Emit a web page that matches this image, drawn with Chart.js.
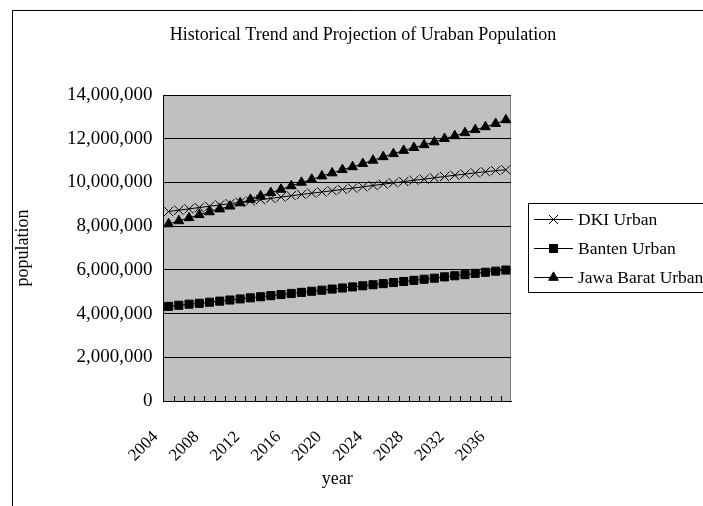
<!DOCTYPE html>
<html>
<head>
<meta charset="utf-8">
<title>Historical Trend and Projection of Uraban Population</title>
<script src="https://cdn.jsdelivr.net/npm/chart.js@4.4.0/dist/chart.umd.min.js"></script>
<style>
  html, body { margin: 0; padding: 0; background: #ffffff; }
  #wrap { position: relative; width: 703px; height: 506px; overflow: hidden; }
  canvas { display: block; }
</style>
</head>
<body>
<div id="wrap"><canvas id="chart" width="703" height="506"></canvas></div>
<script>
// Years on the category axis
const years = [
  '2004', '2005', '2006', '2007', '2008', '2009', '2010', '2011', '2012',
  '2013', '2014', '2015', '2016', '2017', '2018', '2019', '2020', '2021',
  '2022', '2023', '2024', '2025', '2026', '2027', '2028', '2029', '2030',
  '2031', '2032', '2033', '2034', '2035', '2036', '2037'
];

// Urban population per province
const dkiUrban = [
  8670000, 8730000, 8790000, 8850000, 8910000, 8970000, 9030000, 9090000,
  9150000, 9210000, 9270000, 9330000, 9390000, 9450000, 9510000, 9560000,
  9620000, 9680000, 9740000, 9800000, 9860000, 9920000, 9980000, 10040000,
  10100000, 10150000, 10210000, 10270000, 10330000, 10380000, 10440000,
  10490000, 10540000, 10580000
];
const bantenUrban = [
  4330000, 4380000, 4430000, 4470000, 4520000, 4570000, 4620000, 4670000,
  4720000, 4770000, 4820000, 4870000, 4920000, 4970000, 5020000, 5070000,
  5120000, 5170000, 5220000, 5270000, 5320000, 5370000, 5420000, 5470000,
  5520000, 5570000, 5620000, 5680000, 5730000, 5780000, 5840000, 5890000,
  5940000, 5990000
];
const jawaBaratUrban = [
  8100000, 8240000, 8380000, 8520000, 8650000, 8780000, 8910000, 9060000,
  9220000, 9380000, 9530000, 9680000, 9840000, 10000000, 10140000, 10290000,
  10430000, 10580000, 10710000, 10860000, 11010000, 11170000, 11310000,
  11460000, 11590000, 11720000, 11850000, 12000000, 12130000, 12270000,
  12410000, 12540000, 12690000, 12860000
];

// Value axis ticks
const populationTicks = [0, 2000000, 4000000, 6000000, 8000000, 10000000, 12000000, 14000000];
// Every fourth year carries a label
const yearLabelStep = 4;

const SERIF = '"Liberation Serif", "DejaVu Serif", serif';
const INK = '#000000';

const seriesStyles = [
  { label: 'DKI Urban',        data: dkiUrban,       pointStyle: 'crossRot', radius: 6.5 },
  { label: 'Banten Urban',     data: bantenUrban,    pointStyle: 'rect',     radius: 5.7 },
  { label: 'Jawa Barat Urban', data: jawaBaratUrban, pointStyle: 'triangle', radius: 5.6 }
];

// Sheet frame, plot fill, inner tick marks, title and boxed legend
const sheetDecor = {
  id: 'sheetDecor',
  beforeDraw(chart) {
    const { ctx, chartArea: a } = chart;
    ctx.save();
    ctx.fillStyle = '#ffffff';
    ctx.fillRect(0, 0, chart.width, chart.height);
    // outer frame (left and top edges show)
    ctx.strokeStyle = '#000000';
    ctx.lineWidth = 1;
    ctx.beginPath();
    ctx.moveTo(12.5, chart.height + 2);
    ctx.lineTo(12.5, 10.5);
    ctx.lineTo(chart.width + 2, 10.5);
    ctx.stroke();
    // plot area
    ctx.fillStyle = '#c0c0c0';
    ctx.fillRect(a.left, a.top, a.right - a.left, a.bottom - a.top);
    ctx.strokeStyle = '#808080';
    ctx.beginPath();
    ctx.moveTo(Math.round(a.right) - 0.5, a.top);
    ctx.lineTo(Math.round(a.right) - 0.5, a.bottom);
    ctx.stroke();
    ctx.restore();
  },
  afterDatasetsDraw(chart) {
    const { ctx, chartArea: a } = chart;
    const xs = chart.scales.x;
    ctx.save();
    // tick marks between categories, pointing into the plot
    const half = (xs.getPixelForValue(1) - xs.getPixelForValue(0)) / 2;
    ctx.strokeStyle = INK;
    ctx.lineWidth = 1;
    ctx.beginPath();
    for (let i = 1; i < years.length; i++) {
      const x = Math.round(xs.getPixelForValue(i) - half) + 0.5;
      ctx.moveTo(x, a.bottom);
      ctx.lineTo(x, a.bottom - 5);
    }
    ctx.stroke();
    ctx.restore();
  },
  afterDraw(chart) {
    const { ctx } = chart;
    ctx.save();
    // title
    ctx.fillStyle = INK;
    ctx.font = '18px ' + SERIF;
    ctx.textAlign = 'center';
    ctx.textBaseline = 'middle';
    ctx.fillText('Historical Trend and Projection of Uraban Population', 363, 35);

    // legend
    const box = { x: 528.5, y: 203.5, w: 200, h: 89 };
    ctx.strokeStyle = INK;
    ctx.lineWidth = 1;
    ctx.strokeRect(box.x, box.y, box.w, box.h);
    const rows = [219, 248, 277];
    ctx.font = '17.5px ' + SERIF;
    ctx.textAlign = 'left';
    chart.data.datasets.forEach((ds, i) => {
      const y = rows[i] + 0.5;
      ctx.strokeStyle = INK;
      ctx.beginPath();
      ctx.moveTo(534, y);
      ctx.lineTo(573, y);
      ctx.stroke();
      ctx.fillStyle = INK;
      Chart.helpers.drawPoint(ctx, {
        pointStyle: ds.pointStyle, radius: ds.pointRadius, borderWidth: 1, rotation: 0
      }, 553.5, y);
      ctx.fillStyle = INK;
      ctx.fillText(ds.label, 578, rows[i] + 1);
    });
    ctx.restore();
  }
};

new Chart(document.getElementById('chart'), {
  type: 'line',
  data: {
    labels: years,
    datasets: seriesStyles.map(s => ({
      label: s.label,
      data: s.data,
      borderColor: INK,
      backgroundColor: INK,
      borderWidth: 1,
      pointStyle: s.pointStyle,
      pointRadius: s.radius,
      pointHoverRadius: s.radius,
      pointBorderColor: INK,
      pointBackgroundColor: INK,
      pointBorderWidth: 1,
      tension: 0,
      fill: false
    }))
  },
  options: {
    responsive: false,
    animation: false,
    devicePixelRatio: 1,
    events: [],
    layout: { padding: { left: 12, top: 95, right: 192, bottom: 16 } },
    plugins: { legend: { display: false }, title: { display: false }, tooltip: { enabled: false } },
    scales: {
      x: {
        type: 'category',
        offset: true,
        grid: { display: false, drawTicks: false },
        border: { display: true, color: INK, width: 1 },
        ticks: {
          autoSkip: false,
          maxRotation: 45,
          minRotation: 45,
          padding: 26,
          labelOffset: -13,
          color: INK,
          font: { family: SERIF, size: 17 },
          callback: (v, i) => (i % yearLabelStep === 0 ? years[i] : '')
        },
        title: {
          display: true,
          text: 'year',
          color: INK,
          font: { family: SERIF, size: 18 },
          padding: 0
        },
        afterFit: s => { s.height = 89; }
      },
      y: {
        min: 0,
        max: 14000000,
        afterBuildTicks: s => { s.ticks = populationTicks.map(v => ({ value: v })); },
        grid: { color: INK, lineWidth: 1, drawTicks: false },
        border: { display: true, color: INK, width: 1 },
        ticks: {
          padding: 11,
          color: INK,
          font: { family: SERIF, size: 19 },
          callback: v => Number(v).toLocaleString('en-US')
        },
        title: {
          display: true,
          text: 'population',
          color: INK,
          font: { family: SERIF, size: 18 },
          padding: { top: 0, bottom: 0 }
        },
        afterFit: s => { s.width = 151.5; }
      }
    }
  },
  plugins: [sheetDecor]
});
</script>
</body>
</html>
